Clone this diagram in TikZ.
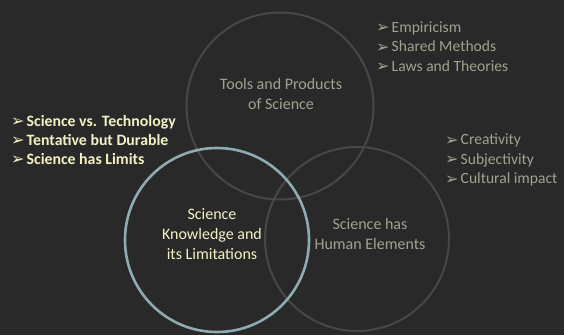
\documentclass[tikz,border=0pt]{standalone}
\usepackage{fontspec}
\setmainfont{Carlito}
\newfontfamily\symfont{DejaVu Sans}
\definecolor{bgdark}{HTML}{292929}
\definecolor{ringgray}{HTML}{474747}
\definecolor{ringblue}{HTML}{8EAAB2}
\definecolor{paleyellow}{HTML}{F4F2C4}
\definecolor{mutedtext}{HTML}{A3A28E}
\newcommand{\arrowbul}{\makebox[15.5pt][l]{\raisebox{-0.5pt}{\symfont\fontsize{16}{12}\selectfont ➢}}}
\tikzset{
  ring/.style={draw=ringgray, line width=2pt},
  focusring/.style={draw=ringblue, line width=2.6pt},
  ringlabel/.style={align=center, font=\fontsize{16}{20}\selectfont, inner sep=0pt},
  bulletlist/.style={anchor=west, align=left, inner sep=0pt, font=\fontsize{15.6}{19.5}\selectfont},
}
\begin{document}
\begin{tikzpicture}[x=1pt, y=-1pt]
  \fill[bgdark] (0,0) rectangle (564,335);
  \useasboundingbox (0,0) rectangle (564,335);

  % three overlapping rings
  \draw[ring] (280,106) circle[radius=93.5];
  \draw[ring] (357,239) circle[radius=92];
  \draw[focusring] (217,240) circle[radius=92];

  % ring captions
  \node[ringlabel, text=mutedtext] (tools) at (281,94) {Tools and Products\\of Science};
  \node[ringlabel, text=paleyellow] (knowledge) at (212,234) {Science\\Knowledge and\\its Limitations};
  \node[ringlabel, text=mutedtext] (human) at (370,233.5) {Science has\\Human Elements};

  % bullet lists
  \node[bulletlist, text=paleyellow, font=\bfseries\fontsize{15.8}{19}\selectfont] (limits) at (11,140)
    {\arrowbul Science vs. Technology\\\arrowbul Tentative but Durable\\\arrowbul Science has Limits};
  \node[bulletlist, text=mutedtext] (products) at (376,46.5)
    {\arrowbul Empiricism\\\arrowbul Shared Methods\\\arrowbul Laws and Theories};
  \node[bulletlist, text=mutedtext] (elements) at (445,160)
    {\arrowbul Creativity\\\arrowbul Subjectivity\\\arrowbul Cultural impact};
\end{tikzpicture}
\end{document}
